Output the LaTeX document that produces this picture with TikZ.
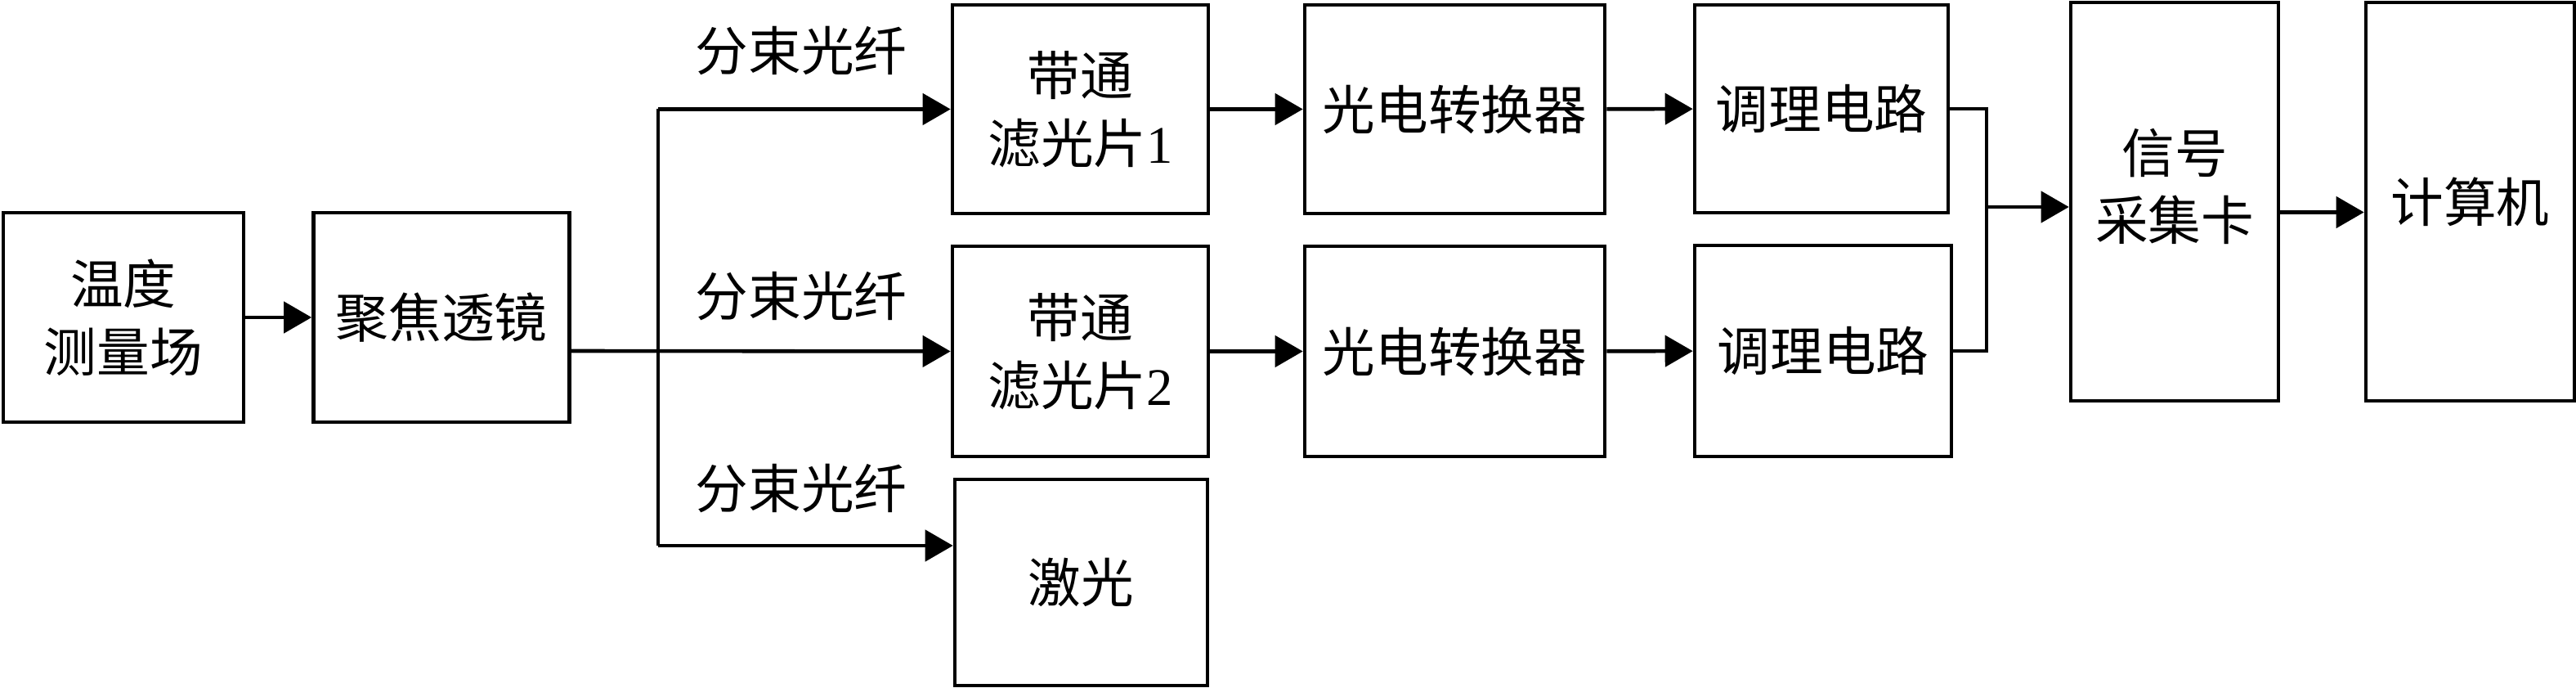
\documentclass[tikz,border=0pt]{standalone}
\usepackage{fontspec}
\setmainfont{Liberation Serif}
\newfontfamily\cjk{Noto Sans CJK SC}
\usetikzlibrary{arrows.meta}
\newcommand{\zh}[1]{{\cjk #1}}
\begin{document}
\begin{tikzpicture}[
		box/.style={draw,line width=1.3pt,inner sep=0pt,align=center,font=\fontsize{18.4}{23.5}\selectfont},
		lbl/.style={inner sep=0pt,font=\fontsize{18.4}{23.5}\selectfont},
		arr/.style={line width=1.3pt,-{Triangle[length=0.34cm,width=0.38cm]}},
		wire/.style={line width=1.3pt}]
		\useasboundingbox (0,0) rectangle (31.51,-8.41);

		\node[box,minimum width=2.94cm,minimum height=2.56cm] (temp) at (1.51,-3.88) {\zh{温度}\\\zh{测量场}};
		\node[box,minimum width=3.13cm,minimum height=2.56cm] (lens) at (5.40,-3.88) {\zh{聚焦透镜}};

		\node[box,minimum width=3.13cm,minimum height=2.55cm] (filterA) at (13.215,-1.335) {\zh{带通}\\\zh{滤光片}1};
		\node[box,minimum width=3.13cm,minimum height=2.57cm] (filterB) at (13.215,-4.295) {\zh{带通}\\\zh{滤光片}2};
		\node[box,minimum width=3.09cm,minimum height=2.52cm] (laser) at (13.225,-7.12) {\zh{激光}};

		\node[box,minimum width=3.67cm,minimum height=2.55cm] (optoA) at (17.795,-1.335) {\zh{光电转换器}};
		\node[box,minimum width=3.67cm,minimum height=2.57cm] (optoB) at (17.795,-4.295) {\zh{光电转换器}};

		\node[box,minimum width=3.10cm,minimum height=2.54cm] (condA) at (22.28,-1.33) {\zh{调理电路}};
		\node[box,minimum width=3.14cm,minimum height=2.58cm] (condB) at (22.30,-4.29) {\zh{调理电路}};

		\node[box,minimum width=2.54cm,minimum height=4.87cm] (card) at (26.60,-2.465) {\zh{信号}\\\zh{采集卡}\\[-0.4cm]};
		\node[box,minimum width=2.55cm,minimum height=4.87cm] (pc) at (30.215,-2.465) {\zh{计算机}};

		\node[lbl] (fiberA) at (9.80,-0.62) {\zh{分束光纤}};
		\node[lbl] (fiberB) at (9.80,-3.62) {\zh{分束光纤}};
		\node[lbl] (fiberC) at (9.80,-5.97) {\zh{分束光纤}};

		\coordinate (split) at (8.05,-4.29);
		\coordinate (laserin) at ([yshift=0.45cm]laser.west);
		\coordinate (merge) at (24.30,-2.53);

		\draw[arr] (temp) -- (lens);
		\draw[arr] ([yshift=-0.41cm]lens.east) -- (filterB.west);
		\draw[wire] (split |- filterA) -- (split |- laserin);
		\draw[arr] (split |- filterA) -- (filterA.west);
		\draw[arr] (split |- laserin) -- (laserin);

		\draw[arr] (filterA) -- (optoA);
		\draw[arr] (filterB) -- (optoB);
		\draw[arr] (optoA) -- (condA);
		\draw[arr] (optoB) -- (condB);

		\draw[wire] (condA.east) -| (merge) |- (condB.east);
		\draw[arr] (merge) -- (merge -| card.west);
		\draw[arr] ([yshift=-0.13cm]card.east) -- ([yshift=-0.13cm]pc.west);
	\end{tikzpicture}
\end{document}
